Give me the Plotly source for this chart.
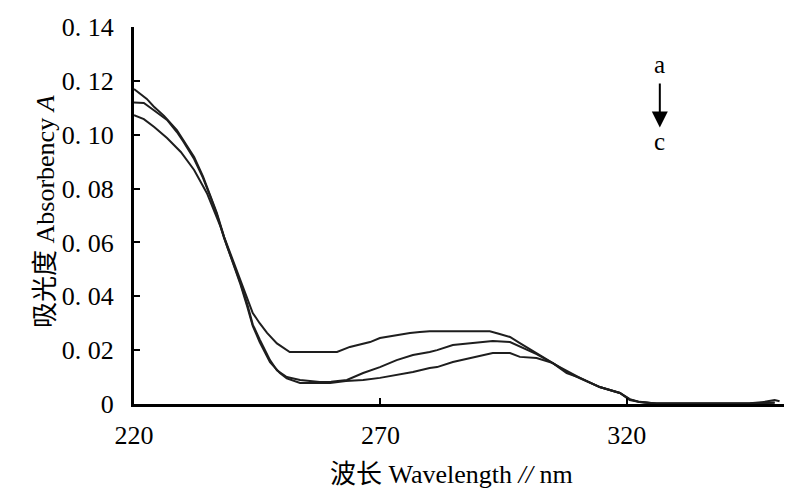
import plotly.graph_objects as go

# Wavelength (nm) and absorbance for the three spectra a, b, c
wl_a = [220, 222.6, 224, 226.1, 228.7, 230, 232.2, 234, 235.6, 236.8, 238.3, 239.5, 241.5, 242.8,
        244.1, 245.5, 247.0, 249, 251.0, 251.6, 255, 258, 261.2, 263.8, 266, 267.9, 269.9, 273.3,
        276, 278, 280, 285, 290, 292.2, 294.2, 296.3, 298.3, 301.7, 305, 307.8, 310.5, 314.5,
        318.6, 320.6, 322.6, 325, 330, 335, 340, 345, 348, 350, 351]
abs_a = [0.117, 0.1133, 0.1105, 0.107, 0.1017, 0.098, 0.0917, 0.0845, 0.0769, 0.071, 0.062, 0.056,
         0.046, 0.040, 0.0338, 0.030, 0.0264, 0.0225, 0.020, 0.0193, 0.0193, 0.0193, 0.0193, 0.0212,
         0.0222, 0.023, 0.0245, 0.0256, 0.0264, 0.0267, 0.027, 0.027, 0.027, 0.027, 0.026, 0.0249,
         0.0226, 0.019, 0.0152, 0.0115, 0.0097, 0.0063, 0.0041, 0.0015, 0.0007, 0.0003, 0.0002,
         0.0002, 0.0002, 0.0003, 0.0008, 0.0015, 0.001]

wl_b = [220, 222, 224.1, 226.7, 228.7, 230, 232.2, 234, 235.6, 236.8, 238.3, 239.5, 241.5, 243,
        244.1, 245.5, 247.6, 249, 251, 253.7, 257.7, 260, 263.2, 266.5, 269.9, 273.3, 276.6, 280,
        281.5, 284.7, 288, 290.2, 292.8, 296.3, 298.9, 301.7, 306.4, 310.5, 314.5, 318.6, 320.6,
        322.6, 326, 330, 335, 340, 345, 350]
abs_b = [0.112, 0.1118, 0.109, 0.1055, 0.101, 0.0975, 0.091, 0.084, 0.0765, 0.0705, 0.0615, 0.0555,
         0.0455, 0.037, 0.0295, 0.024, 0.0163, 0.0125, 0.010, 0.0089, 0.0082, 0.0083, 0.0089, 0.0115,
         0.0137, 0.0163, 0.0182, 0.0193, 0.020, 0.0219, 0.0225, 0.023, 0.0234, 0.023, 0.0208, 0.0185,
         0.0137, 0.0097, 0.0063, 0.0041, 0.0018, 0.0008, 0.0002, 0.0002, 0.0002, 0.0002, 0.0002, 0.0006]

wl_c = [220, 222, 224.1, 226.7, 229.5, 232.2, 234.8, 237.6, 239, 240.5, 241.5, 243, 244.1, 245.5,
        247.6, 249.6, 251, 253.7, 257.7, 259.8, 263, 266.5, 269.9, 273.3, 276.6, 280, 281.5, 284.7,
        288.2, 292.8, 296.3, 298.3, 301.7, 305, 307.8, 310.5, 314.5, 318.6, 320.6, 322.6, 326, 330,
        335, 340, 345, 350]
abs_c = [0.1073, 0.1058, 0.1029, 0.0988, 0.0936, 0.0869, 0.0783, 0.0657, 0.058, 0.050, 0.045, 0.036,
         0.029, 0.023, 0.0155, 0.0115, 0.0095, 0.0078, 0.0077, 0.0078, 0.0085, 0.0089, 0.0097, 0.0108,
         0.0119, 0.0134, 0.0137, 0.0156, 0.0171, 0.0189, 0.0189, 0.0175, 0.0171, 0.0152, 0.0119,
         0.0095, 0.0063, 0.0041, 0.0017, 0.0007, 0.0002, 0.0002, 0.0002, 0.0002, 0.0002, 0.0005]

x_ticks = [220, 270, 320]
y_ticks = [0, 0.02, 0.04, 0.06, 0.08, 0.10, 0.12, 0.14]
y_tick_text = ["0", "0. 02", "0. 04", "0. 06", "0. 08", "0. 10", "0. 12", "0. 14"]

FONT = "Liberation Serif, Noto Sans CJK SC, serif"

fig = go.Figure()
for wl, ab in [(wl_a, abs_a), (wl_b, abs_b), (wl_c, abs_c)]:
    fig.add_trace(go.Scatter(x=wl, y=ab, mode="lines",
                             line=dict(color="#1e1e1e", width=2), showlegend=False))

fig.update_layout(
    width=786, height=494,
    margin=dict(l=134, r=2, t=27, b=90, autoexpand=False),
    paper_bgcolor="white", plot_bgcolor="white",
    font=dict(family=FONT, color="black", size=25),
    xaxis=dict(range=[220, 351.9], tickvals=x_ticks, ticktext=[str(v) for v in x_ticks],
               ticks="inside", ticklen=6, tickwidth=2, tickcolor="black", automargin=False,
               showline=True, linewidth=3, linecolor="black", showgrid=False, zeroline=False,
               ticklabelstandoff=6, tickfont=dict(size=26, family=FONT)),
    yaxis=dict(range=[0, 0.14], tickvals=y_ticks, ticktext=y_tick_text,
               ticks="inside", ticklen=6, tickwidth=2, tickcolor="black", automargin=False,
               showline=True, linewidth=3, linecolor="black", showgrid=False, zeroline=False,
               ticklabelstandoff=12, tickfont=dict(size=26, family=FONT)),
)

fig.add_annotation(text="波长 Wavelength <i>//</i> nm", xref="paper", yref="paper",
                   x=(451 - 134) / 650, y=-(474 - 404) / 377, xanchor="center", yanchor="middle",
                   showarrow=False, font=dict(size=26, family=FONT))
fig.add_annotation(text="吸光度 Absorbency <i>A</i>", xref="paper", yref="paper",
                   x=-(134 - 45) / 650, y=(404 - 212) / 377, xanchor="center", yanchor="middle",
                   showarrow=False, textangle=-90, font=dict(size=26, family=FONT))

fig.add_annotation(text="a", x=326.7, y=0.1259, xref="x", yref="y", showarrow=False,
                   xanchor="center", yanchor="middle", font=dict(size=25, family=FONT))
fig.add_annotation(text="c", x=326.7, y=0.0973, xref="x", yref="y", showarrow=False,
                   xanchor="center", yanchor="middle", font=dict(size=25, family=FONT))
fig.add_annotation(text="", x=326.7, y=0.1027, ax=326.7, ay=0.1196, xref="x", yref="y",
                   axref="x", ayref="y", showarrow=True, arrowhead=2, arrowsize=1.6,
                   arrowwidth=2, arrowcolor="black")

fig.write_html("out.html", config={"displayModeBar": False},
               post_script="document.body.style.margin='0px';")
